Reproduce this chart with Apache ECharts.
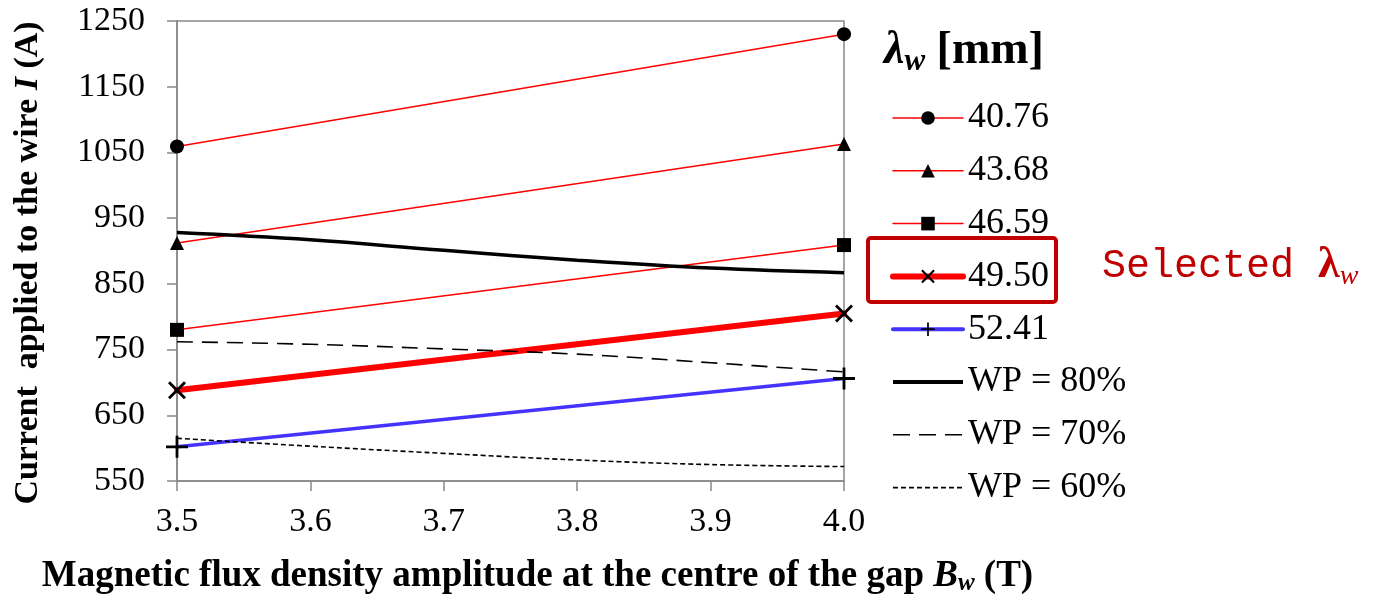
<!DOCTYPE html>
<html>
<head>
<meta charset="utf-8">
<script src="https://cdn.jsdelivr.net/npm/echarts@6/dist/echarts.min.js"></script>
<style>
html,body{margin:0;padding:0;background:#fff;}
#main{width:1373px;height:597px;}
</style>
</head>
<body>
<div id="main"></div>
<script>
// ---- data ----
var xEnds = [3.5, 4.0];
var xFull = [3.5, 3.6, 3.7, 3.8, 3.9, 4.0];
var seriesNames = ['40.76', '43.68', '46.59', '49.50', '52.41', 'WP = 80%', 'WP = 70%', 'WP = 60%'];
var lam4076 = [1059, 1230];
var lam4368 = [912, 1063];
var lam4659 = [780, 909];
var lam4950 = [688, 805];
var lam5241 = [602, 706];
var wp80 = [928, 917, 901, 886, 874, 867];
var wp70 = [762, 758, 751, 743, 730, 716];
var wp60 = [615, 603, 592, 582, 575, 572];
var yTicks = {min: 550, max: 1250, interval: 100};
var xTicks = {min: 3.5, max: 4.0, interval: 0.1};

function pairs(xs, ys){ return xs.map(function(x,i){ return [x, ys[i]]; }); }

var SERIF = '"Liberation Serif","Times New Roman",serif';
var plusPath = 'path://M-1.4,-11H1.4V-1.4H11V1.4H1.4V11H-1.4V1.4H-11V-1.4H-1.4Z';
var crossPath = 'path://M-9,-7L-7,-9L0,-2L7,-9L9,-7L2,0L9,7L7,9L0,2L-7,9L-9,7L-2,0Z';

function lamSeries(name, ys, sym, size, color, width){
  return {
    name: name, type: 'line', data: pairs(xEnds, ys),
    symbol: sym, symbolSize: size, showSymbol: true, clip: false,
    itemStyle: {color: '#000'},
    lineStyle: {color: color, width: width, cap: 'round'},
    emphasis: {disabled: true}, animation: false
  };
}
function wpSeries(name, ys, width, type){
  return {
    name: name, type: 'line', data: pairs(xFull, ys), smooth: 0.4,
    symbol: 'none', showSymbol: false, clip: false,
    itemStyle: {color: '#000'},
    lineStyle: {color: '#000', width: width, type: type},
    emphasis: {disabled: true}, animation: false
  };
}

var series = [
  lamSeries('40.76', lam4076, 'circle', 14, '#ff0000', 1.5),
  lamSeries('43.68', lam4368, 'triangle', 14, '#ff0000', 1.5),
  lamSeries('46.59', lam4659, 'rect', 14, '#ff0000', 1.5),
  lamSeries('49.50', lam4950, crossPath, 18, '#ff0000', 6),
  lamSeries('52.41', lam5241, plusPath, 22, '#4433ff', 3.5),
  wpSeries('WP = 80%', wp80, 3.5, 'solid'),
  wpSeries('WP = 70%', wp70, 1.6, [16, 9]),
  wpSeries('WP = 60%', wp60, 1.6, [5, 3])
];

var legendLine = {
  '40.76': {width: 1.5, type: 'solid'},
  '43.68': {width: 1.5, type: 'solid'},
  '46.59': {width: 1.5, type: 'solid'},
  '49.50': {width: 6, type: 'solid'},
  '52.41': {width: 4, type: 'solid'},
  'WP = 80%': {width: 4, type: 'solid'},
  'WP = 70%': {width: 1.6, type: [17, 9]},
  'WP = 60%': {width: 1.6, type: [5, 3]}
};
var legendData = seriesNames.map(function(n){
  var item = {name: n, lineStyle: legendLine[n]};
  if (n.indexOf('WP') === 0) item.itemStyle = {opacity: 0};
  return item;
});

var chart = echarts.init(document.getElementById('main'), null, {renderer: 'canvas'});
chart.setOption({
  backgroundColor: '#fff',
  animation: false,
  title: {
    text: '{l|λ}{sub|w}{b| [mm]}',
    left: 884, top: 26, padding: 0,
    textStyle: {
      rich: {
        l: {fontFamily: SERIF, fontSize: 46, fontWeight: 'bold', fontStyle: 'italic', color: '#000'},
        sub: {fontFamily: SERIF, fontSize: 31, fontWeight: 'bold', fontStyle: 'italic', color: '#000', padding: [20, 0, 0, 0]},
        b: {fontFamily: SERIF, fontSize: 46, fontWeight: 'bold', color: '#000'}
      }
    }
  },
  legend: {
    orient: 'vertical', left: 890, top: 98, padding: 0,
    itemWidth: 70, itemHeight: 17, itemGap: 12.8,
    data: legendData,
    selectedMode: false,
    textStyle: {fontFamily: SERIF, fontSize: 36, color: '#000', lineHeight: 40}
  },
  grid: {left: 177, right: 529, top: 21, bottom: 116, containLabel: false, outerBoundsMode: 'none',
    show: true, borderColor: '#888', borderWidth: 1.5, backgroundColor: 'transparent'},
  xAxis: {
    type: 'value', min: xTicks.min, max: xTicks.max, interval: xTicks.interval,
    axisLine: {show: true, lineStyle: {color: '#888', width: 1.5}},
    axisTick: {show: true, length: 10, lineStyle: {color: '#888', width: 1.5}},
    splitLine: {show: false},
    axisLabel: {fontFamily: SERIF, fontSize: 34, color: '#000', margin: 24,
      formatter: function(v){ return v.toFixed(1); }},
    name: '{b|Magnetic flux density amplitude at the centre of the gap }{bi|B}{sub|w}{b| (T)}',
    nameLocation: 'middle', nameGap: 76,
    nameTextStyle: {
      padding: [0, 0, 0, 54],
      rich: {
        b: {fontFamily: SERIF, fontSize: 37, fontWeight: 'bold', color: '#000'},
        bi: {fontFamily: SERIF, fontSize: 37, fontWeight: 'bold', fontStyle: 'italic', color: '#000'},
        sub: {fontFamily: SERIF, fontSize: 25, fontWeight: 'bold', fontStyle: 'italic', color: '#000', padding: [14, 0, 0, 0]}
      }
    }
  },
  yAxis: {
    type: 'value', min: yTicks.min, max: yTicks.max, interval: yTicks.interval,
    axisLine: {show: true, lineStyle: {color: '#888', width: 1.5}},
    axisTick: {show: true, length: 10, lineStyle: {color: '#888', width: 1.5}},
    splitLine: {show: false},
    axisLabel: {fontFamily: SERIF, fontSize: 34, color: '#000', margin: 32,
      formatter: function(v){ return String(v); }},
    name: '{b|Current  applied to the wire }{bi|I}{b| (A)}',
    nameLocation: 'middle', nameGap: 132, nameRotate: 90,
    nameTextStyle: {
      padding: [0, 24, 0, 0],
      rich: {
        b: {fontFamily: SERIF, fontSize: 34, fontWeight: 'bold', color: '#000'},
        bi: {fontFamily: SERIF, fontSize: 34, fontWeight: 'bold', fontStyle: 'italic', color: '#000'}
      }
    }
  },
  graphic: [
    {type: 'rect', shape: {x: 868, y: 238, width: 188, height: 64, r: 3},
     style: {fill: 'none', stroke: '#c00000', lineWidth: 4}, z: 100},
    {type: 'text', x: 1102, y: 266,
     style: {
       text: '{m|Selected }{l|λ}{s|w}',
       verticalAlign: 'middle',
       rich: {
         m: {fontFamily: '"Liberation Mono",monospace', fontSize: 40, fill: '#c00000'},
         l: {fontFamily: SERIF, fontSize: 44, fontWeight: 'bold', fill: '#c00000'},
         s: {fontFamily: SERIF, fontSize: 28, fontStyle: 'italic', fill: '#c00000', padding: [22, 0, 0, 0]}
       }
     }, z: 100}
  ],
  series: series
});
</script>
</body>
</html>
